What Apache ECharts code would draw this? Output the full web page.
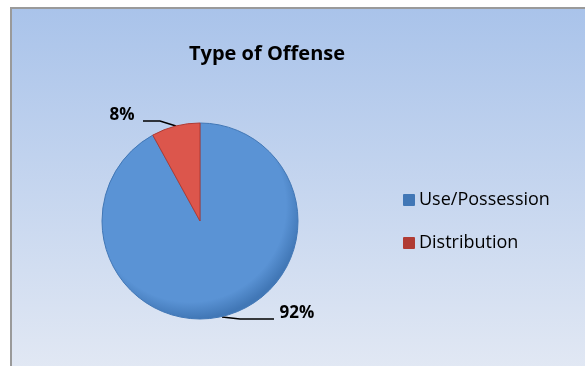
<!DOCTYPE html>
<html><head><meta charset="utf-8">
<script src="https://cdn.jsdelivr.net/npm/echarts@6/dist/echarts.min.js"></script>
<style>html,body{margin:0;padding:0;background:#fff}#c{width:585px;height:366px}</style>
</head><body><div id="c"></div>
<script>
const categories = ['Use/Possession', 'Distribution'];
const values = [92, 8];
const titleText = 'Type of Offense';
const colors = ['#5a93d5', '#dc564c'];
const edgeColors = ['#4177b6', '#b03b34'];

const chart = echarts.init(document.getElementById('c'), null, {renderer: 'canvas'});
const fontFam = '"Open Sans", Lato, sans-serif';
const cx = 200, cy = 221, r = 98;
chart.setOption({
  backgroundColor: '#ffffff',
  animation: false,
  graphic: [{
    type: 'rect', left: 10, top: 7, z: -10,
    shape: {width: 590, height: 370},
    style: {
      fill: new echarts.graphic.LinearGradient(0, 0, 0, 1, [
        {offset: 0, color: '#a9c3ea'}, {offset: 1, color: '#e3e9f4'}]),
      stroke: '#9a9a9a', lineWidth: 2
    }
  }],
  title: {
    text: titleText, left: 262, top: 39, textAlign: 'center',
    textStyle: {fontFamily: fontFam, fontWeight: 'bold', fontSize: 20, color: '#000'}
  },
  legend: {
    orient: 'vertical', left: 398, top: 186, itemGap: 25,
    itemWidth: 10, itemHeight: 10, icon: 'rect',
    textStyle: {fontFamily: fontFam, fontSize: 18, color: '#000'},
    data: categories
  },
  series: [{
    type: 'pie', center: [cx, cy], radius: r, startAngle: 90,
    clockwise: true,
    data: categories.map((c, i) => ({
      name: c, value: values[i],
      itemStyle: {
        color: new echarts.graphic.RadialGradient(cx - 10, cy - 15, r + 15, [
          {offset: 0, color: colors[i]}, {offset: 0.85, color: colors[i]}, {offset: 1, color: edgeColors[i]}], true),
        borderColor: edgeColors[i], borderWidth: 1
      }
    })),
    label: {
      show: true, position: 'outside', formatter: '{d}%',
      fontFamily: fontFam, fontWeight: 'bold', fontSize: 17, color: '#000'
    },
    labelLine: {show: true, length: 8, length2: 40, lineStyle: {color: '#000', width: 1.5}},
    labelLayout: function (p) {
      if (p.dataIndex === 1) {
        return {x: 122, y: 115, align: 'center', verticalAlign: 'middle',
          labelLinePoints: [[176, 126], [160, 121], [143, 121]]};
      }
      return {x: 297, y: 313, align: 'center', verticalAlign: 'middle',
        labelLinePoints: [[222, 317], [240, 319], [274, 319]]};
    }
  }]
});
</script></body></html>
